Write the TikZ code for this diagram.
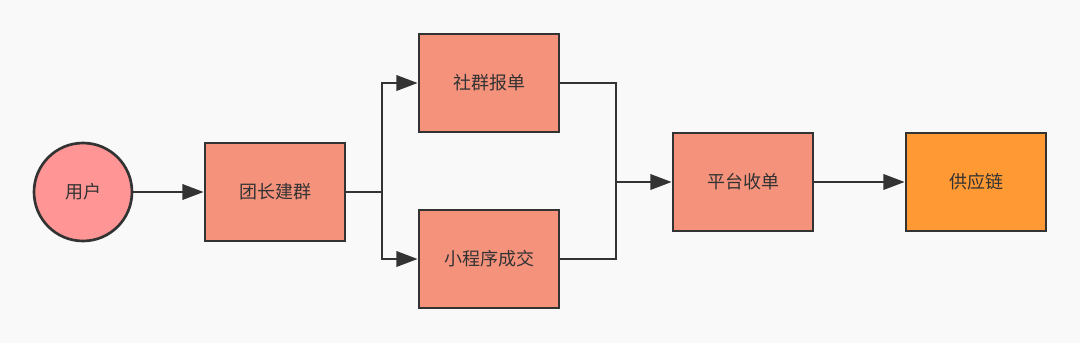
\documentclass[tikz,border=0pt]{standalone}
\usepackage{fontspec}
\usepackage{xcolor}
\usepackage{tikz}
\usetikzlibrary{arrows.meta}
\newfontfamily\cjk{Noto Sans CJK SC}
\definecolor{pagebg}{HTML}{F9F9F9}
\definecolor{boxfill}{HTML}{F4927C}
\definecolor{userfill}{HTML}{FF9595}
\definecolor{supplyfill}{HTML}{FF9933}
\definecolor{edge}{HTML}{333333}

\begin{document}
\begin{tikzpicture}[x=0.75pt,y=-0.75pt,
      stepbox/.style={draw=edge,fill=boxfill,line width=2pt,minimum width=105pt,
                      minimum height=73.5pt,inner sep=0pt,text=edge,
                      font=\cjk\fontsize{13.5}{16}\selectfont},
      usernode/.style={circle,draw=edge,fill=userfill,line width=2pt,minimum size=73.5pt,
                       inner sep=0pt,text=edge,font=\cjk\fontsize{13.5}{16}\selectfont},
      link/.style={draw=edge,line width=2pt},
      flow/.style={link,-{Triangle[length=16pt,width=11.5pt]}}]
    \fill[pagebg] (0,0) rectangle (1080,343);
    \useasboundingbox (0,0) rectangle (1080,343);
    \node[usernode] (user) at (83,192) {用户};
    \node[stepbox] (group) at (275,192) {团长建群};
    \node[stepbox] (report) at (489,83) {社群报单};
    \node[stepbox] (mini) at (489,259) {小程序成交};
    \node[stepbox] (order) at (743,182) {平台收单};
    \node[stepbox,fill=supplyfill] (supply) at (976,182) {供应链};
    \coordinate (split) at (382,192);
    \coordinate (merge) at (616,182);
    \draw[flow] (user) -- (group);
    \draw[link] (group.east) -- (split);
    \draw[flow] (split) |- (report.west);
    \draw[flow] (split) |- (mini.west);
    \draw[link] (report.east) -| (merge);
    \draw[link] (mini.east) -| (merge);
    \draw[flow] (merge) -- (order.west);
    \draw[flow] (order) -- (supply);
  \end{tikzpicture}
\end{document}
